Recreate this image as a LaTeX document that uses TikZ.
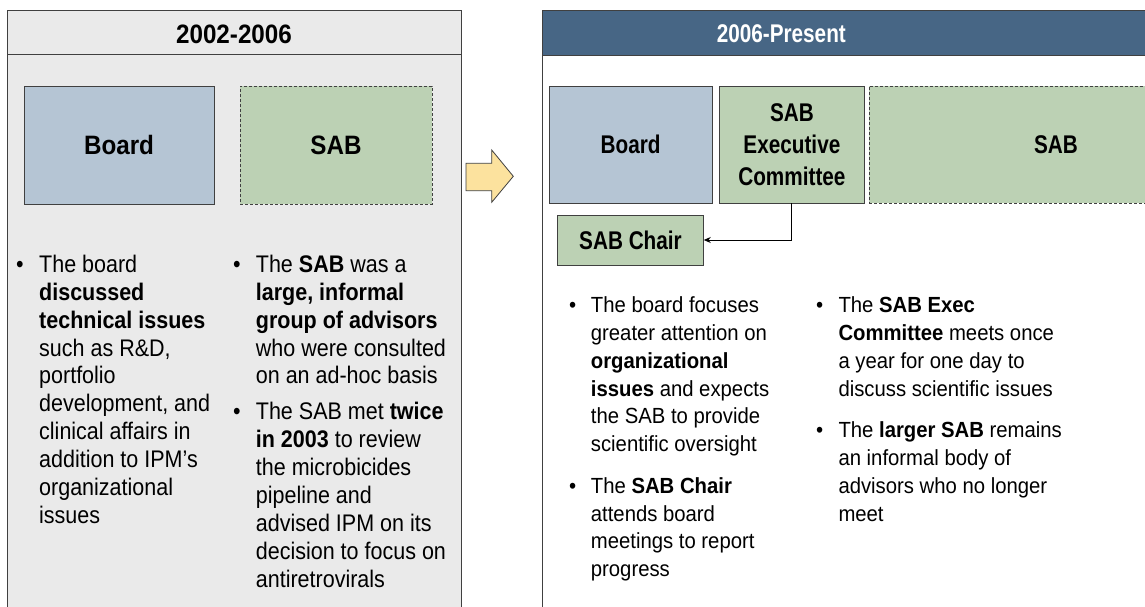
\documentclass[tikz,border=0pt]{standalone}
\usepackage{fontspec}
\setmainfont{Liberation Sans}[FakeStretch=0.91]
\newfontfamily\lbodyfont{Liberation Sans}[FakeStretch=0.896]
\newfontfamily\rbodyfont{Liberation Sans}[FakeStretch=0.927]
\newfontfamily\llabfont{Liberation Sans}[FakeStretch=0.91]
\newfontfamily\rlabfont{Liberation Sans}[FakeStretch=0.81]
\usetikzlibrary{arrows.meta}
\definecolor{boardc}{HTML}{B5C5D4}
\definecolor{sabc}{HTML}{BCD1B4}
\definecolor{headc}{HTML}{476685}
\definecolor{panelc}{HTML}{EAEAEA}
\definecolor{arrowc}{HTML}{FCE29E}
\definecolor{linec}{HTML}{404040}
\newcommand{\firststrut}{\rule{0pt}{20pt}}
\tikzset{
  box/.style={draw=linec, line width=0.9pt, inner sep=0pt, align=center},
  lbox/.style={box, font=\llabfont\bfseries\fontsize{26.6}{32}\selectfont},
  rbox/.style={box, font=\rlabfont\bfseries\fontsize{25.6}{32}\selectfont},
  dashed box/.style={dash pattern=on 3pt off 2pt},
  lbody/.style={anchor=north west, inner sep=0pt, align=left,
    font=\lbodyfont\fontsize{24}{27.85}\selectfont},
  rbody/.style={anchor=north west, inner sep=0pt, align=left,
    font=\rbodyfont\fontsize{21.9}{27.85}\selectfont},
  lbul/.style={anchor=base west, inner sep=0pt,
    font=\lbodyfont\fontsize{24}{27.85}\selectfont},
  rbul/.style={anchor=base west, inner sep=0pt,
    font=\rbodyfont\fontsize{21.9}{27.85}\selectfont},
  panel/.style={draw=linec, line width=0.9pt}
}
\begin{document}
\begin{tikzpicture}[x=1pt,y=-1pt]
\useasboundingbox (0,0) rectangle (1145,607);
\clip (0,0) rectangle (1145,607);
\fill[white] (0,0) rectangle (1145,607);
% left panel
\draw[panel, fill=panelc] (7.5,10) rectangle (461.5,640);
\draw[panel] (7.5,54.5) -- (461.5,54.5);
\node[inner sep=0pt, font=\llabfont\bfseries\fontsize{26.6}{32}\selectfont] (h1) at (234,34.3) {2002-2006};
% right panel
\draw[panel, fill=white] (542.7,10) rectangle (1300,640);
\draw[panel, fill=headc] (542.7,10) rectangle (1300,55);
\node[inner sep=0pt, text=white, font=\rlabfont\bfseries\fontsize{25.6}{32}\selectfont] (h2) at (781.3,34) {2006-Present};
% transition arrow
\draw[draw=linec, line width=0.8pt, fill=arrowc]
  (466,163.3) -- (491.7,163.3) -- (491.7,150) -- (513.3,176.3) -- (491.7,202.3)
  -- (491.7,190.7) -- (466,190.7) -- cycle;
% left boxes
\node[lbox, fill=boardc, minimum width=190pt, minimum height=118pt] (board1) at (119,145) {Board};
\node[lbox, dashed box, fill=sabc, minimum width=192pt, minimum height=118pt] (sab1) at (336,145) {SAB};
% right boxes
\node[rbox, fill=boardc, minimum width=162.7pt, minimum height=117pt] (board2) at (630.6,144.5) {Board};
\node[rbox, fill=sabc, minimum width=145.7pt, minimum height=117pt] (exec) at (791.9,144.5) {SAB\\Executive\\Committee};
\node[rbox, dashed box, fill=sabc, minimum width=373.4pt, minimum height=117pt] (sab2) at (1056,144.5) {SAB};
\node[rbox, fill=sabc, minimum width=145.6pt, minimum height=50pt] (chair) at (630.5,240) {SAB Chair};
\draw[line width=0.9pt, -{Stealth[length=7pt,width=6pt]}] (exec.south) |- (chair.east);
% left panel text
\node[lbul] (b1) at (16,272.3) {•};
\node[lbody] (t1) at (39,252.3) {\firststrut The board\\\textbf{discussed}\\\textbf{technical issues}\\such as R\&D,\\portfolio\\development, and\\clinical affairs in\\addition to IPM’s\\organizational\\issues};
\node[lbul] (b2) at (233,272.3) {•};
\node[lbody] (t2) at (255.7,252.3) {\firststrut The \textbf{SAB} was a\\\textbf{large, informal}\\\textbf{group of advisors}\\who were consulted\\on an ad-hoc basis};
\node[lbul] (b3) at (233,419.7) {•};
\node[lbody] (t3) at (255.7,399.7) {\firststrut The SAB met \textbf{twice}\\\textbf{in 2003} to review\\the microbicides\\pipeline and\\advised IPM on its\\decision to focus on\\antiretrovirals};
% right panel text
\node[rbul] (b4) at (569,312.3) {•};
\node[rbody] (t4) at (590.7,292.3) {\firststrut The board focuses\\greater attention on\\\textbf{organizational}\\\textbf{issues} and expects\\the SAB to provide\\scientific oversight};
\node[rbul] (b5) at (569,493) {•};
\node[rbody] (t5) at (590.7,473) {\firststrut The \textbf{SAB Chair}\\attends board\\meetings to report\\progress};
\node[rbul] (b6) at (816,312.3) {•};
\node[rbody] (t6) at (838.3,292.3) {\firststrut The \textbf{SAB Exec}\\\textbf{Committee} meets once\\a year for one day to\\discuss scientific issues};
\node[rbul] (b7) at (816,437.3) {•};
\node[rbody] (t7) at (838.3,417.3) {\firststrut The \textbf{larger SAB} remains\\an informal body of\\advisors who no longer\\meet};
\end{tikzpicture}
\end{document}
